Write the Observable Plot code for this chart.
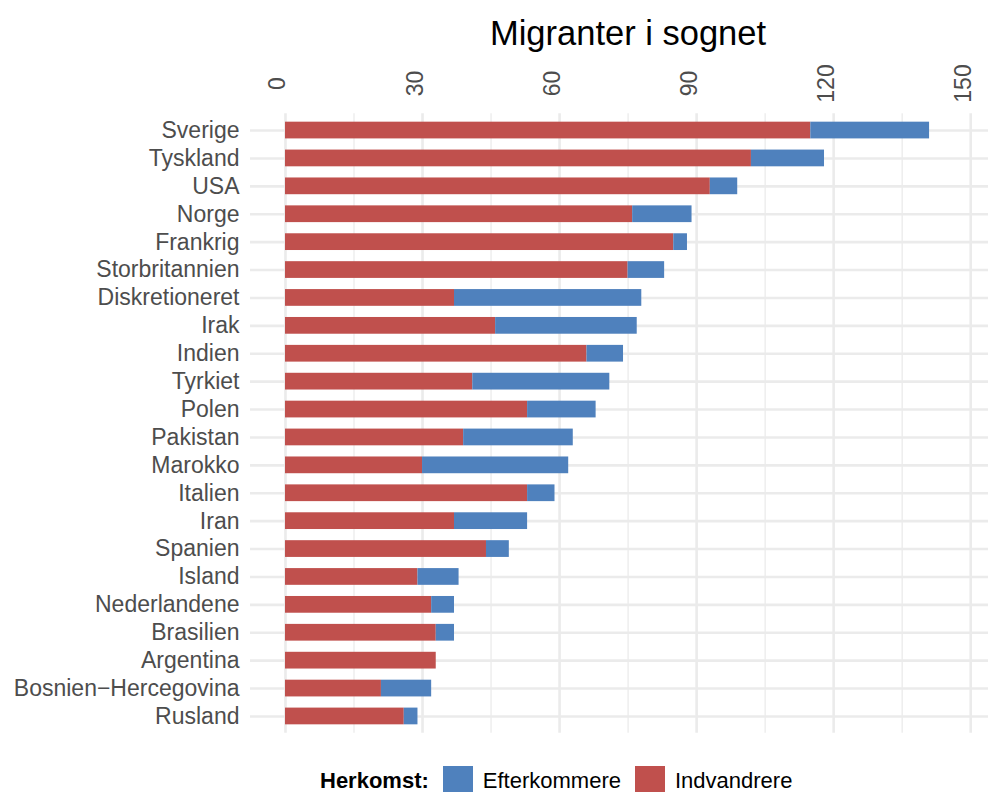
<!DOCTYPE html>
<html>
<head>
<meta charset="utf-8">
<script src="https://cdn.jsdelivr.net/npm/d3@7"></script>
<script src="https://cdn.jsdelivr.net/npm/@observablehq/plot@0.6"></script>
<style>
  html, body { margin: 0; padding: 0; background: #fff; overflow: hidden; }
  body { width: 995px; height: 792px; font-family: "Liberation Sans", Arial, sans-serif; position: relative; }
  #title { position: absolute; top: 13px; left: 628px; transform: translateX(-50%); font-size: 34.5px; line-height: 40px; color: #000; white-space: nowrap; }
  #chart { position: absolute; top: 58px; left: 0; }
  #legend { position: absolute; top: 750px; left: 320px; display: flex; align-items: flex-start; font-size: 22px; color: #000; white-space: nowrap; }
  #legend .lab { margin-top: 20px; line-height: 22px; }
  #legend .sw { margin-top: 16px; width: 30px; height: 26px; }
</style>
</head>
<body>
<div id="title">Migranter i sognet</div>
<div id="chart"></div>
<div id="legend"></div>
<script>
const countries = ["Sverige","Tyskland","USA","Norge","Frankrig","Storbritannien","Diskretioneret","Irak","Indien","Tyrkiet","Polen","Pakistan","Marokko","Italien","Iran","Spanien","Island","Nederlandene","Brasilien","Argentina","Bosnien\u2212Hercegovina","Rusland"];
const indvandrere = [115,102,93,76,85,75,37,46,66,41,53,39,30,53,37,44,29,32,33,33,21,26];
const efterkommere = [26,16,6,13,3,8,41,31,8,30,15,24,32,6,16,5,9,5,4,0,11,3];
const seriesNames = ["Efterkommere","Indvandrere"];
const seriesColors = ["#4F81BD","#C0504D"];
const xTicks = [0,30,60,90,120,150];
const xMinorTicks = [15,45,75,105,135];

const data = countries.flatMap((c, i) => [
  {country: c, type: "Indvandrere", value: indvandrere[i]},
  {country: c, type: "Efterkommere", value: efterkommere[i]}
]);

const grid = "#EBEBEB";
const plot = Plot.plot({
  width: 995,
  height: 692,
  marginTop: 55.3,
  marginBottom: 17.3,
  marginLeft: 250,
  marginRight: 7,
  style: {fontFamily: "'Liberation Sans', Arial, sans-serif", fontSize: "23px", color: "#4d4d4d", background: "#fff"},
  x: {domain: [-7.66, 153.9], axis: null},
  y: {domain: countries, paddingInner: 0.4, paddingOuter: 0.3, round: false, label: null},
  color: {domain: seriesNames, range: seriesColors},
  marks: [
    Plot.ruleX(xMinorTicks, {x: d => d, stroke: grid, strokeWidth: 1.3}),
    Plot.ruleX(xTicks, {x: d => d, stroke: grid, strokeWidth: 2.6}),
    Plot.ruleY(countries, {y: d => d, stroke: grid, strokeWidth: 2.6}),
    Plot.barX(data, {x: "value", y: "country", fill: "type", order: ["Indvandrere","Efterkommere"]}),
    Plot.text(xTicks, {x: d => d, frameAnchor: "top", rotate: -90, textAnchor: "middle", lineAnchor: "bottom", dy: -30.3, fill: "#4d4d4d", fontSize: 23}),
    Plot.axisY({tickSize: 0, tickPadding: 11, label: null, fontSize: 23, fill: "#4d4d4d"})
  ]
});
document.getElementById("chart").appendChild(plot);

const legend = document.getElementById("legend");
const head = document.createElement("div");
head.className = "lab";
head.style.fontWeight = "bold";
head.style.marginRight = "14px";
head.textContent = "Herkomst:";
legend.appendChild(head);
seriesNames.forEach((name, i) => {
  const sw = document.createElement("div");
  sw.className = "sw";
  sw.style.background = seriesColors[i];
  sw.style.marginRight = "10px";
  legend.appendChild(sw);
  const lab = document.createElement("div");
  lab.className = "lab";
  lab.style.marginRight = i === 0 ? "14px" : "0";
  lab.textContent = name;
  legend.appendChild(lab);
});
</script>
</body>
</html>
